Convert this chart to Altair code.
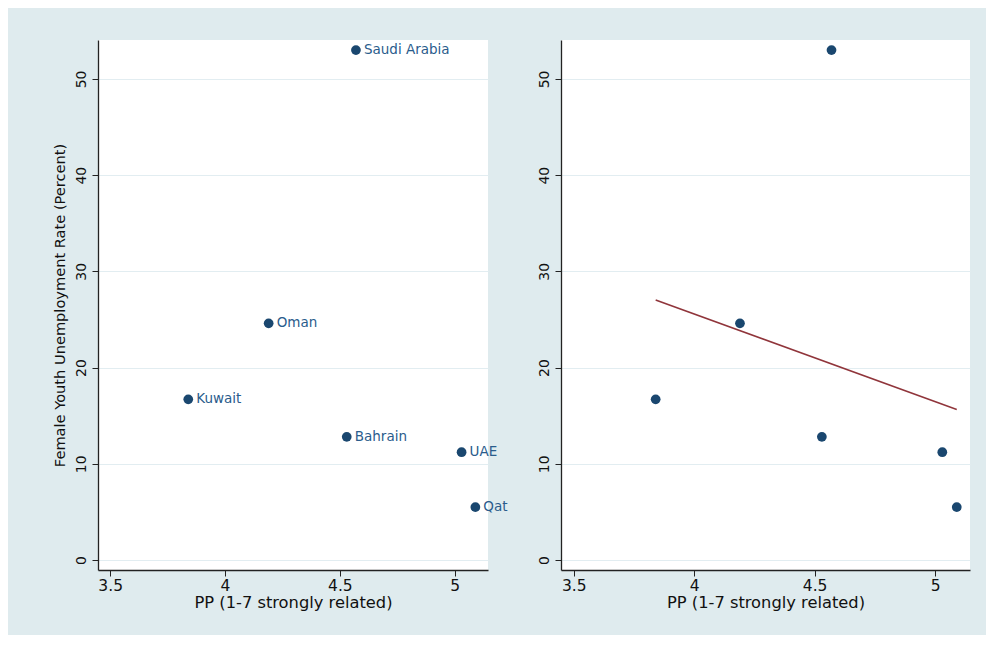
import altair as alt
import pandas as pd

countries = ["Saudi Arabia", "Oman", "Kuwait", "Bahrain", "UAE", "Qatar"]
pp = [4.57, 4.19, 3.84, 4.53, 5.03, 5.09]
unemp = [53.0, 24.6, 16.7, 12.8, 11.2, 5.5]

x_ticks = [3.5, 4, 4.5, 5]
y_ticks = [0, 10, 20, 30, 40, 50]
x_domain = [3.447, 5.145]
y_domain = [-1.04, 54.05]

df = pd.DataFrame({"country": countries, "pp": pp, "unemp": unemp})

NAVY = "#1a476f"
LABEL = "#2a5c8c"
MAROON = "#90353b"
FONT = "DejaVu Sans"

def xenc():
    return alt.X("pp:Q", title="PP (1-7 strongly related)",
                 scale=alt.Scale(domain=x_domain, nice=False, zero=False),
                 axis=alt.Axis(values=x_ticks, format="~g", grid=False, labelFontSize=15.5,
                               titleFontSize=16.3, labelColor="#111", titleColor="#111",
                               domainColor="#222", tickColor="#222", tickSize=6,
                               labelPadding=2, titlePadding=1, labelFlush=False))

def yenc(title):
    return alt.Y("unemp:Q", title=title,
                 scale=alt.Scale(domain=y_domain, nice=False, zero=False),
                 axis=alt.Axis(values=y_ticks, grid=True, gridColor="#e2edf1",
                               labelAngle=-90, labelAlign="center", labelBaseline="bottom",
                               labelFontSize=14, titleFontSize=14.6,
                               labelColor="#111", titleColor="#111",
                               domainColor="#222", tickColor="#222", tickSize=6,
                               labelPadding=4, titlePadding=7, labelFlush=False))

base = alt.Chart(df)

left_pts = base.mark_circle(size=95, color=NAVY, opacity=1).encode(
    x=xenc(), y=yenc("Female Youth Unemployment Rate (Percent)"))
txt_enc = dict(x=alt.X("pp:Q"), y=alt.Y("unemp:Q"), text="country:N")
left_txt = base.transform_filter(alt.datum.country != "Qatar").mark_text(
    align="left", baseline="middle", dx=8, fontSize=13.5,
    color=LABEL, font=FONT).encode(**txt_enc)
# label running off the graph edge is cut, as in the original
left_txt_cut = base.transform_filter(alt.datum.country == "Qatar").mark_text(
    align="left", baseline="middle", dx=8, fontSize=13.5, limit=26, ellipsis="\u200b",
    color=LABEL, font=FONT).encode(**txt_enc)
left = alt.layer(left_pts, left_txt, left_txt_cut).properties(width=390, height=530)

right_pts = base.mark_circle(size=95, color=NAVY, opacity=1).encode(
    x=xenc(), y=yenc(None))
right_line = base.transform_regression("pp", "unemp").mark_line(
    color=MAROON, strokeWidth=1.6).encode(x=alt.X("pp:Q"), y=alt.Y("unemp:Q"))
right = alt.layer(right_line, right_pts).properties(width=409, height=530)

chart = alt.hconcat(left, right, spacing=29).properties(
    background="#dfebee",
    padding={"left": 44, "top": 32, "right": 16, "bottom": 24},
).configure_view(stroke=None, fill="white").configure_axis(
    labelFont=FONT, titleFont=FONT, titleFontWeight="normal", domainWidth=1.3
).resolve_scale(x="independent", y="independent")

chart.save("out.html", embed_options={"renderer": "svg", "actions": False})
